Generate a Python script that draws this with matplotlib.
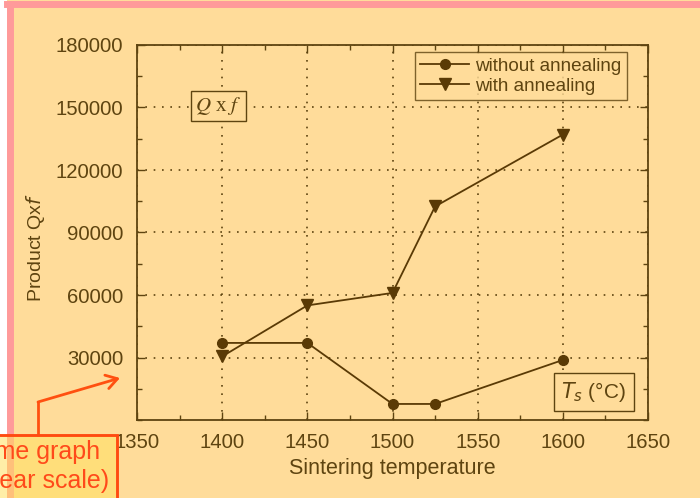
import matplotlib.pyplot as plt
from matplotlib.lines import Line2D
from matplotlib.patches import Rectangle, FancyArrowPatch
from matplotlib.ticker import MultipleLocator

temps_no_anneal = [1400, 1450, 1500, 1525, 1600]
qf_no_anneal = [37000, 37000, 7700, 7700, 28800]
temps_anneal = [1400, 1450, 1500, 1525, 1600]
qf_anneal = [30500, 55000, 61000, 102500, 137000]

BG = '#FFDC9A'
INK = '#5E4410'
LINE = '#5A3A05'

plt.rcParams['font.family'] = ['Liberation Sans', 'DejaVu Sans']

W, H = 700, 498
fig = plt.figure(figsize=(7, 4.98), dpi=100, facecolor=BG)


def fx(px):
    return px / W


def fy(py):
    return 1 - py / H


ax = fig.add_axes([fx(137), fy(420), fx(648) - fx(137), fy(45) - fy(420)])
ax.set_facecolor(BG)

ax.plot(temps_no_anneal, qf_no_anneal, '-o', color=LINE, lw=1.3, ms=7,
        label='without annealing')
ax.plot(temps_anneal, qf_anneal, '-v', color=LINE, lw=1.3, ms=8,
        label='with annealing')

ax.set_xlim(1350, 1650)
ax.set_ylim(0, 180000)
ax.set_xticks(range(1350, 1651, 50))
ax.xaxis.set_minor_locator(MultipleLocator(25))
ax.set_yticks(range(30000, 180001, 30000))
ax.set_yticklabels([str(v) for v in range(30000, 180001, 30000)])
ax.yaxis.set_minor_locator(MultipleLocator(15000))
ax.tick_params(which='both', direction='in', top=True, right=True,
               color=INK, labelcolor=INK, labelsize=14.6)
ax.tick_params(which='major', length=6, width=1)
ax.tick_params(which='minor', length=3.5, width=1)
ax.tick_params(axis='y', pad=10)
ax.tick_params(axis='x', pad=9)
ax.grid(True, which='major', linestyle=(0, (1, 4)), color=INK, lw=1.2)
for s in ax.spines.values():
    s.set_color(INK)
    s.set_linewidth(1.3)

ax.set_xlabel('Sintering temperature', color=INK, fontsize=15.5, labelpad=5)
ax.set_ylabel('Product Qx$\\mathit{f}$', color=INK, fontsize=14)
ax.yaxis.set_label_coords(-0.176, 0.46)

leg = ax.legend(loc='upper right', bbox_to_anchor=(0.959, 0.982), fontsize=13.6,
                frameon=True, fancybox=False, handlelength=2.6,
                handletextpad=0.3, borderpad=0.3, labelspacing=0.15,
                borderaxespad=0)
leg.get_frame().set_edgecolor(INK)
leg.get_frame().set_facecolor(BG)
leg.get_frame().set_linewidth(1.0)
for t in leg.get_texts():
    t.set_color(INK)

ax.text(0.16, 0.837, '$Q$ x $f$', transform=ax.transAxes, ha='center',
        va='center', fontsize=15, color=INK, family='Liberation Serif',
        math_fontfamily='stix',
        bbox=dict(boxstyle='square,pad=0.2', fc=BG, ec=INK, lw=1))
ax.text(0.894, 0.075, '$T_s$ (°C)', transform=ax.transAxes, ha='center',
        va='center', fontsize=15, color=INK, math_fontfamily='dejavusans',
        bbox=dict(boxstyle='square,pad=0.35', fc=BG, ec=INK, lw=1))

# page border and overlaid annotation
fig.patches.append(Rectangle((0, 0), fx(7), 1, transform=fig.transFigure,
                             fc='white', ec='none', zorder=-1))
fig.add_artist(Line2D([fx(10), fx(10)], [0, fy(4)], color='#FF9A9A', lw=5))
fig.add_artist(Line2D([fx(7), 1], [fy(4.5), fy(4.5)], color='#FF9A9A', lw=5))

fig.patches.append(Rectangle((-0.05, -0.05), fx(117) + 0.05, fy(435) + 0.05,
                             transform=fig.transFigure, fc='#FFE060',
                             ec='#FF4A10', lw=2, alpha=0.55, zorder=5))
fig.add_artist(Rectangle((-0.05, -0.05), fx(117) + 0.05, fy(435) + 0.05,
                         transform=fig.transFigure, fc='none',
                         ec='#FF4A10', lw=2, zorder=6))
fig.text(fx(-36), fy(452), 'Same graph', ha='left', va='center',
         fontsize=18, color='#FF4A1A', zorder=7)
fig.text(fx(-34), fy(481), '(linear scale)', ha='left', va='center',
         fontsize=18, color='#FF4A1A', zorder=7)
fig.add_artist(Line2D([fx(38), fx(38)], [fy(435), fy(402)],
                      color='#FF5010', lw=2))
fig.add_artist(FancyArrowPatch((fx(38), fy(402)), (fx(120), fy(378)),
                               transform=fig.transFigure,
                               arrowstyle='->,head_length=8,head_width=5',
                               color='#FF5010', lw=2, shrinkA=0, shrinkB=0))

fig.savefig('out.png', dpi=100, facecolor=BG)
